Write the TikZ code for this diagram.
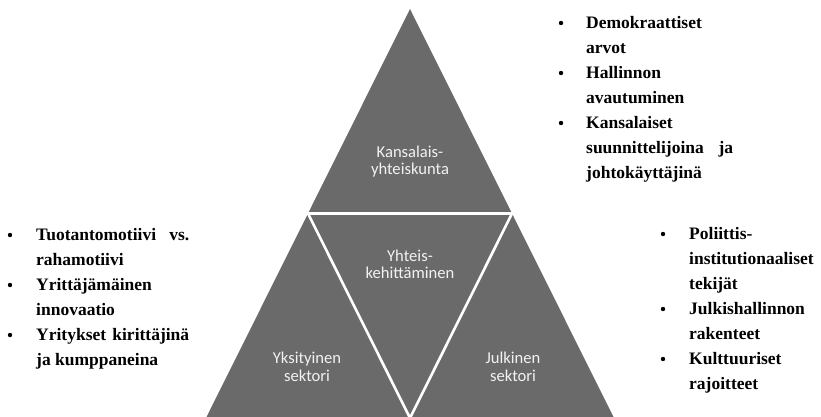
\documentclass[tikz,border=0pt]{standalone}
\usepackage{fontspec}
\usetikzlibrary{calc}
\setmainfont{Liberation Serif}
\newfontfamily\lblfont{Carlito}
\definecolor{trigray}{RGB}{106,106,106}
\definecolor{lbltext}{RGB}{242,242,242}
\tikzset{
  trifill/.style={fill=trigray,draw=none},
  divider/.style={draw=white,line width=2.6pt},
  lbl/.style={text=lbltext,align=center,inner sep=0pt,font=\lblfont\fontsize{16.6}{17.5}\selectfont},
  bultext/.style={anchor=base west,inner sep=0pt,font=\bfseries\fontsize{17.5}{20}\selectfont},
  bulldot/.style={circle,fill=black,inner sep=0pt,minimum size=4.4pt}
}
\begin{document}
\begin{tikzpicture}[x=1pt,y=-1pt]
\useasboundingbox (0,0) rectangle (821,416);
% triangle
\coordinate (A) at (410,9);
\coordinate (BL) at (206,418);
\coordinate (BR) at (614,418);
\coordinate (ML) at ($(A)!0.5!(BL)$);
\coordinate (MR) at ($(A)!0.5!(BR)$);
\coordinate (MB) at ($(BL)!0.5!(BR)$);
\fill[trifill] (A) -- (BL) -- (BR) -- cycle;
\draw[divider] (ML) -- (MR) -- (MB) -- cycle;
% labels
\node[lbl] (kans) at (410,161.5) {Kansalais-\\yhteiskunta};
\node[lbl] (yht) at (410,264.5) {Yhteis-\\kehittäminen};
\node[lbl] (yks) at (307,367) {Yksityinen\\sektori};
\node[lbl] (jul) at (513,367) {Julkinen\\sektori};
% top right list
\foreach \y in {23,73,123} \node[bulldot] at (561,\y) {};
\node[bultext] (t1) at (586,28) {Demokraattiset};
\node[bultext] (t2) at (586,53) {arvot};
\node[bultext] (t3) at (586,78) {Hallinnon};
\node[bultext] (t4) at (586,103) {avautuminen};
\node[bultext] (t5) at (586,128) {Kansalaiset};
\node[bultext] (t6) at (586,153) {\hbox to 147pt{suunnittelijoina\hfill ja}};
\node[bultext] (t7) at (586,178) {johtokäyttäjinä};
% left list
\foreach \y in {235,285,335} \node[bulldot] at (10,\y) {};
\node[bultext] (l1) at (36,240) {\hbox to 153pt{Tuotantomotiivi\hfill vs.}};
\node[bultext] (l2) at (36,265) {rahamotiivi};
\node[bultext] (l3) at (36,290) {Yrittäjämäinen};
\node[bultext] (l4) at (36,315) {innovaatio};
\node[bultext] (l5) at (36,340) {\hbox to 153pt{Yritykset\hfill kirittäjinä}};
\node[bultext] (l6) at (36,365) {ja kumppaneina};
% right lower list
\foreach \y in {234,309,359} \node[bulldot] at (663,\y) {};
\node[bultext] (r1) at (689,239) {Poliittis-};
\node[bultext] (r2) at (689,264) {institutionaaliset};
\node[bultext] (r3) at (689,289) {tekijät};
\node[bultext] (r4) at (689,314) {Julkishallinnon};
\node[bultext] (r5) at (689,339) {rakenteet};
\node[bultext] (r6) at (689,364) {Kulttuuriset};
\node[bultext] (r7) at (689,389) {rajoitteet};
\end{tikzpicture}
\end{document}
